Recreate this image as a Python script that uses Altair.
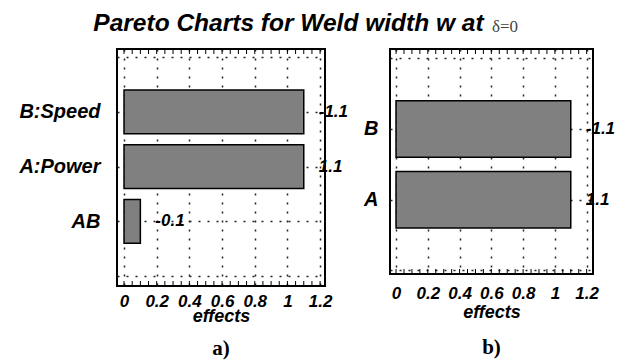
import altair as alt
import pandas as pd

# ---- data ----
title_main = "Pareto Charts for Weld width w at"
title_suffix = "δ=0"

left_terms = ["B:Speed", "A:Power", "AB"]
left_effects = [-1.1, 1.1, -0.1]
left_caption = "a)"

right_terms = ["B", "A"]
right_effects = [-1.1, 1.1]
right_caption = "b)"

x_ticks = [0, 0.2, 0.4, 0.6, 0.8, 1, 1.2]
minor_ticks = [0, 0.05, 0.1, 0.15, 0.2, 0.25, 0.3, 0.35, 0.4, 0.45, 0.5, 0.55,
               0.6, 0.65, 0.7, 0.75, 0.8, 0.85, 0.9, 0.95, 1.0, 1.05, 1.1, 1.15, 1.2]

SANS = "Liberation Sans"
SERIF = "Liberation Serif"


def make_df(terms, effects):
    n = len(terms)
    return pd.DataFrame({
        "term": terms,
        "effect": effects,
        "abs": [abs(e) for e in effects],
        "pos": [n - i for i in range(n)],
        "label": [f"{e:g}" for e in effects],
        "x0": [0.0] * n,
    })


def panel(terms, effects, width, height, xdom, ydom, caption, cap_offset,
          lab_pad, title_pad, extra=None):
    df = make_df(terms, effects)
    n = len(terms)
    label_expr = " : ".join(
        f"datum.value == {n - i} ? '{t}'" for i, t in enumerate(terms)) + " : ''"
    xscale = alt.Scale(domain=xdom, nice=False, zero=False)
    yscale = alt.Scale(domain=ydom, nice=False, zero=False)
    xaxis = alt.Axis(
        values=x_ticks, title="effects", format="~g", grid=True, ticks=False,
        domain=False, labelFont=SANS, labelFontSize=17, labelFontStyle="italic",
        labelFontWeight="bold", labelColor="black", labelPadding=lab_pad,
        titleFont=SANS, titleFontSize=18, titleFontStyle="italic",
        titleFontWeight="bold", titleColor="black", titlePadding=title_pad,
        gridColor="#222", gridDash=[2, 7], gridWidth=1.5, labelFlush=False,
        labelOverlap=False)
    yaxis = alt.Axis(
        values=list(range(n + 2)), labelExpr=label_expr, title="",
        grid=True, ticks=False, domain=False, labelFont=SANS, labelFontSize=20,
        labelFontStyle="italic", labelFontWeight="bold", labelColor="black",
        labelPadding=17 if n > 2 else 12, gridColor="#222", gridDash=[2, 7],
        gridWidth=1.5, labelOverlap=False)

    bars = alt.Chart(df).transform_calculate(
        y0="datum.pos - 0.4", y1="datum.pos + 0.4"
    ).mark_bar(color="#808080", stroke="black", strokeWidth=1.5).encode(
        x=alt.X("x0:Q", scale=xscale, axis=xaxis),
        x2=alt.X2("abs:Q"),
        y=alt.Y("y0:Q", scale=yscale, axis=yaxis),
        y2=alt.Y2("y1:Q"),
    )

    labels = alt.Chart(df).mark_text(
        align="left", baseline="middle", dx=15, font=SANS, fontSize=17,
        fontStyle="italic", fontWeight="bold", color="black"
    ).encode(
        x=alt.X("abs:Q", scale=xscale, axis=xaxis),
        y=alt.Y("pos:Q", scale=yscale, axis=yaxis),
        text="label:N",
    )

    mdf = pd.DataFrame({"m": minor_ticks})
    top_ticks = alt.Chart(mdf).mark_rule(color="black", strokeWidth=1).encode(
        x=alt.X("m:Q", scale=xscale, axis=xaxis),
        y=alt.value(0), y2=alt.value(5))
    bot_ticks = alt.Chart(mdf).mark_rule(color="black", strokeWidth=1).encode(
        x=alt.X("m:Q", scale=xscale, axis=xaxis),
        y=alt.value(height - 5), y2=alt.value(height))

    layers = [bars, labels, top_ticks, bot_ticks]
    if extra is not None:
        layers.append(extra)
    return alt.layer(*layers).properties(
        width=width, height=height,
        title=alt.TitleParams(caption, orient="bottom", font=SERIF, fontSize=21,
                              fontWeight="bold", color="black", offset=cap_offset),
    )


delta = alt.Chart(pd.DataFrame({"t": [title_suffix]})).mark_text(
    align="left", baseline="middle", font=SERIF, fontSize=17, color="#444"
).encode(x=alt.value(102), y=alt.value(-22), text="t:N")

left = panel(left_terms, left_effects, 208, 237, [-0.043, 1.23], [-0.18, 4.15],
             left_caption, 13, 7, -2)
right = panel(right_terms, right_effects, 203, 225, [-0.038, 1.24], [-0.05, 3.13],
              right_caption, 16, 11, 2, extra=delta)

chart = alt.hconcat(left, right, spacing=12).properties(
    title=alt.TitleParams(title_main, font=SANS, fontSize=24.5, fontStyle="italic",
                          fontWeight="bold", color="black", anchor="middle",
                          dx=-28.5, offset=-19.5),
    padding={"left": 17, "top": 11, "right": 5, "bottom": 5},
    background="white",
).configure_view(stroke="black", strokeWidth=2)

chart.save("out.html", embed_options={"renderer": "svg", "actions": False})
